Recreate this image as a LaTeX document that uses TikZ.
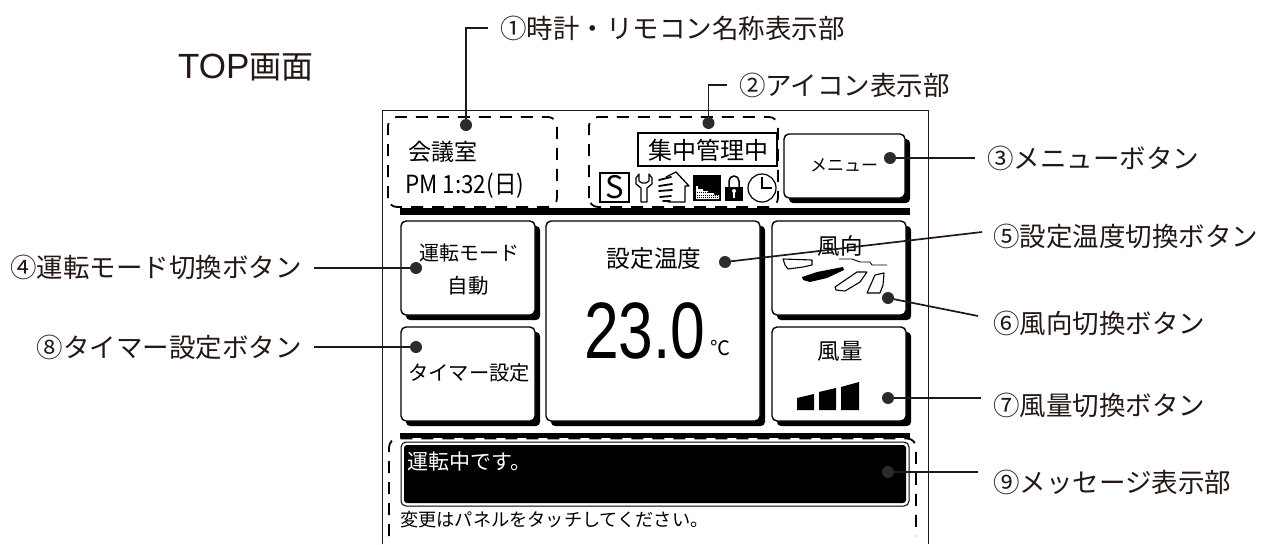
\documentclass[tikz,border=0pt]{standalone}
\usepackage{fontspec}
\setmainfont{Noto Sans CJK JP}
\newfontfamily\latinsans{Liberation Sans}
\newcommand{\fsz}[1]{\fontsize{#1}{#1}\selectfont}
\definecolor{ink}{HTML}{231815}
\definecolor{dotink}{HTML}{2E2A2A}
\newcommand{\panelbtn}[4]{%
  \fill[black,rounded corners=4pt] (#1+5,#2+5) rectangle (#3+5,#4+5);
  \draw[black,fill=white,line width=1.4pt,rounded corners=5pt] (#1,#2) rectangle (#3,#4);}
\tikzset{
  lab/.style={font=\fsz{26.5},text=ink,inner ysep=0pt,inner xsep=12pt},
  scr/.style={text=black,inner sep=0pt},
  dotm/.style={circle,fill=dotink,inner sep=0pt,minimum size=12pt},
  conn/.style={draw=ink,line width=1.7pt},
  dashb/.style={draw=black,line width=1.8pt,dash pattern=on 12pt off 9pt,rounded corners=9pt},
}
\begin{document}
\begin{tikzpicture}[x=1pt,y=-1pt]
\useasboundingbox (0,0) rectangle (1261,544);
\fill[white] (0,0) rectangle (1261,544);
% frame
\draw[ink,line width=1pt] (382,544) -- (382,110) -- (928,110) -- (928,544);
% title
\node[scr,anchor=west,text=ink] (title) at (178,67) {{\latinsans\fsz{35}TOP}{\fsz{32}画面}};
% bars
\fill[black] (400,208) rectangle (910,215);
\fill[black] (400,433) rectangle (910,438);
% dashed zones
\draw[dashb] (388,207) rectangle (557,117);
\draw[dashb] (589,207) rectangle (778,117);
\draw[dashb] (389,536) -- (389,438.5) -- (916,438.5) -- (916,536);
% buttons
\panelbtn{784}{134}{905}{198}
\panelbtn{401}{221}{535}{315}
\panelbtn{401}{327}{535}{421}
\panelbtn{546}{221}{760}{421}
\panelbtn{772}{221}{906}{315}
\panelbtn{772}{327}{906}{421}
% message box
\draw[black,fill=white,line width=1pt,rounded corners=5pt] (401,442) rectangle (909,506);
\fill[black,rounded corners=3pt] (404,445) rectangle (906,503);
% central-control box
\draw[black,fill=white,line width=1.5pt] (638,133) rectangle (777,166);
% screen texts
\node[scr,font=\fsz{23}] (room) at (443,152) {会議室};
\node[scr,anchor=west,font=\fsz{25}] (clock) at (405,186) {\scalebox{0.9}[1]{PM 1:32(日)}};
\node[scr,font=\fsz{24}] (central) at (708,150) {集中管理中};
\node[scr,font=\fsz{17}] (menu) at (844,165) {メニュー};
\node[scr,font=\fsz{20}] (mode) at (469,253) {運転モード};
\node[scr,font=\fsz{20.5}] (auto) at (468,286) {自動};
\node[scr,font=\fsz{20.3}] (timer) at (469,373) {タイマー設定};
\node[scr,font=\fsz{23.7}] (settemp) at (654,259) {設定温度};
\node[scr,anchor=base west] (temp) at (584,358) {\latinsans\fsz{80}\scalebox{0.78}[1]{23.0}};
\node[scr,anchor=base west,font=\fsz{20}] (unit) at (710,355) {℃};
\node[scr,font=\fsz{22.5}] (dirtxt) at (840,246) {風向};
\node[scr,font=\fsz{22.5}] (voltxt) at (840,351) {風量};
\node[scr,anchor=west,text=white,font=\fsz{21}] (msg) at (407,462) {運転中です。};
\node[scr,anchor=west,font=\fsz{18.2}] (hint) at (400,520) {変更はパネルをタッチしてください。};
% icons
\draw[black,line width=1.4pt] (600,173) rectangle (629,202);
\node[scr,font=\fsz{31}] (sicon) at (614.5,187) {S};
% wrench
\draw[black,line width=1.2pt,line join=round]
  (639,174) -- (636,178) -- (636,184) -- (641,188) -- (641,202) -- (647,202) -- (647,188)
  -- (652,184) -- (652,178) -- (649,174) -- (649,181) -- (646,183) -- (642,183) -- (639,181) -- cycle;
% hand and house
\draw[black,line width=1.3pt,line join=round] (666,177) -- (676,172) -- (689,186) -- (685,186) -- (685,202) -- (668,202);
\draw[black,line width=1.8pt,line cap=round]
  (659,180) -- (671,177) (659,186) -- (672,184) (659,191) -- (672,190) (660,197) -- (671,196) (663,201) -- (670,201);
% black calendar-like icon
\fill[black] (693,175) rectangle (721,201);
\fill[white] (696,186) -- (698,186) -- (698,189) -- (703,189) -- (703,191) -- (708,191) -- (708,193) -- (714,193) -- (714,195) -- (719,195) -- (719,199) -- (696,199) -- cycle;
\draw[black,line width=0.5pt,dash pattern=on 1pt off 1pt] (697,192) -- (718,192) (697,195) -- (718,195) (697,197.5) -- (718,197.5);
% lock
\draw[black,line width=1.5pt] (729,187) -- (729,181) arc[start angle=180,end angle=0,radius=5pt] -- (739,187);
\fill[black] (725,187) rectangle (743,201);
\fill[white] (734,191) circle[radius=2pt];
\fill[white] (733,192) rectangle (735,198);
% clock
\draw[black,line width=1.2pt] (762,188) circle[radius=14pt];
\draw[black,line width=1.3pt] (762,177) -- (762,188) -- (772,188);
% wind direction icon
\draw[black,line width=1.1pt,fill=white,line join=round] (783,259) -- (812,260) -- (812,265) -- (803,267) -- (788,269) -- (785,265) -- cycle;
\fill[black] (802,277) -- (817,272) -- (843,267) -- (844,270) -- (827,278) -- (810,282) -- (803,280) -- cycle;
\draw[black,line width=1.1pt,fill=white,line join=round] (835,287) -- (857,272) -- (867,272) -- (860,282) -- (845,291) -- (836,290) -- cycle;
\draw[black,line width=1.1pt,fill=white,line join=round] (867,293) -- (875,275) -- (884,273) -- (883,285) -- (880,293) -- cycle;
\draw[black,line width=0.9pt] (839,259) -- (852,259) -- (860,262) -- (870,262) -- (872,265) -- (887,265);
% fan speed icon
\fill[black] (797,398) -- (797,410) -- (814,410) -- (814,394) -- cycle;
\fill[black] (819,392) -- (819,410) -- (836,410) -- (836,388) -- cycle;
\fill[black] (841,387) -- (841,410) -- (859,410) -- (859,382) -- cycle;
% labels
\node[lab,anchor=west] (l1) at (488,28) {①時計・リモコン名称表示部};
\node[lab,anchor=west] (l2) at (727,85) {②アイコン表示部};
\node[lab,anchor=west] (l3) at (975,158) {③メニューボタン};
\node[lab,anchor=east] (l4) at (314,267) {④運転モード切換ボタン};
\node[lab,anchor=west] (l5) at (981,236) {⑤設定温度切換ボタン};
\node[lab,anchor=west] (l6) at (981,323) {⑥風向切換ボタン};
\node[lab,anchor=west] (l7) at (981,405) {⑦風量切換ボタン};
\node[lab,anchor=east] (l8) at (314,347) {⑧タイマー設定ボタン};
\node[lab,anchor=west] (l9) at (981,482) {⑨メッセージ表示部};
% dots
\node[dotm] (d1) at (466,125) {};
\node[dotm] (d2) at (708.5,123) {};
\node[dotm] (d3) at (890,158) {};
\node[dotm] (d4) at (416,268) {};
\node[dotm] (d5) at (725,262) {};
\node[dotm] (d6) at (888,298) {};
\node[dotm] (d7) at (888,398) {};
\node[dotm] (d8) at (416,347) {};
\node[dotm] (d9) at (888,472) {};
\coordinate (e4) at (314,268);
\coordinate (e5) at (982,232);
\coordinate (e6) at (978,316);
\coordinate (e7) at (981,398);
\coordinate (e9) at (978,472);
% connectors
\draw[conn] (d1) |- (l1.west);
\draw[conn] (d2) |- (l2.west);
\draw[conn] (d3) -- (l3.west);
\draw[conn] (d4) -- (e4);
\draw[conn] (d5) -- (e5);
\draw[conn] (d6) -- (e6);
\draw[conn] (d7) -- (e7);
\draw[conn] (d8) -- (l8.east);
\draw[conn] (d9) -- (e9);
\end{tikzpicture}
\end{document}
